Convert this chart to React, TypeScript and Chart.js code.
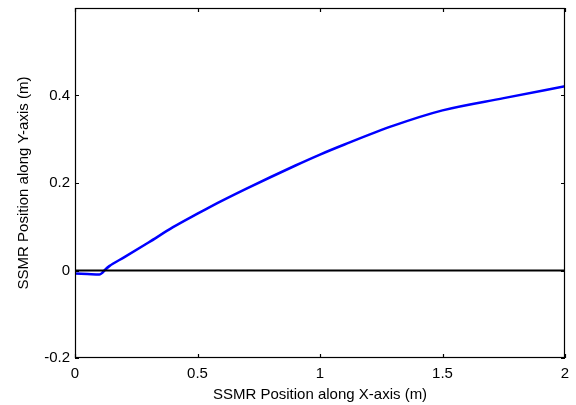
import React, { useEffect, useRef } from "react";
import { Chart, registerables } from "chart.js";

Chart.register(...registerables);

const pathX = [0, 0.05, 0.1, 0.11, 0.12, 0.14, 0.2, 0.3, 0.4, 0.5, 0.55, 0.7, 0.9, 1.0, 1.1, 1.3, 1.5, 1.75, 2.0];
const pathY = [-0.007, -0.008, -0.009, -0.006, 0.0, 0.01, 0.03, 0.064, 0.099, 0.13, 0.145, 0.187, 0.24, 0.265, 0.288, 0.331, 0.366, 0.394, 0.421];
const refX = [0, 2];
const refY = [0, 0];
const xTicks = [0, 0.5, 1, 1.5, 2];
const yTicks = [-0.2, 0, 0.2, 0.4];

const FONT = "'Liberation Sans', Arial, sans-serif";
const fmt = (v: number) => String(Math.round(v * 10) / 10);

const framePlugin = {
  id: "frame",
  afterDraw(chart: any) {
    const { ctx, chartArea } = chart;
    const { left, right, top, bottom } = chartArea;
    const xs = chart.scales.x;
    const ys = chart.scales.y;
    ctx.save();
    ctx.strokeStyle = "#000";
    ctx.lineWidth = 1.2;
    ctx.strokeRect(left + 0.5, top + 0.5, right - left - 1, bottom - top - 1);
    ctx.beginPath();
    xTicks.forEach((t) => {
      const p = Math.round(xs.getPixelForValue(t)) + 0.5;
      ctx.moveTo(p, bottom);
      ctx.lineTo(p, bottom - 4);
      ctx.moveTo(p, top);
      ctx.lineTo(p, top + 4);
    });
    yTicks.forEach((t) => {
      const p = Math.round(ys.getPixelForValue(t)) + 0.5;
      ctx.moveTo(left, p);
      ctx.lineTo(left + 4, p);
      ctx.moveTo(right, p);
      ctx.lineTo(right - 4, p);
    });
    ctx.stroke();
    ctx.restore();
  },
};

export default function App() {
  const ref = useRef<HTMLCanvasElement | null>(null);
  useEffect(() => {
    if (!ref.current) return;
    const chart = new Chart(ref.current, {
      type: "line",
      data: {
        datasets: [
          {
            data: refX.map((x, i) => ({ x, y: refY[i] })),
            borderColor: "#000000",
            borderWidth: 2,
            pointRadius: 0,
            tension: 0,
          },
          {
            data: pathX.map((x, i) => ({ x, y: pathY[i] })),
            borderColor: "#0000ff",
            borderWidth: 2.5,
            pointRadius: 0,
            cubicInterpolationMode: "monotone",
          },
        ],
      },
      options: {
        responsive: false,
        animation: false,
        layout: { padding: { top: 8, right: 11, left: 0, bottom: 0 } },
        plugins: { legend: { display: false }, tooltip: { enabled: false } },
        scales: {
          x: {
            type: "linear",
            min: 0,
            max: 2,
            afterBuildTicks: (s: any) => {
              s.ticks = xTicks.map((v) => ({ value: v }));
            },
            afterFit: (s: any) => {
              s.height = 47;
              s.paddingLeft = 0;
              s.paddingRight = 0;
            },
            grid: { display: false, drawTicks: false },
            border: { display: false },
            ticks: {
              color: "#000",
              padding: 7,
              maxRotation: 0,
              font: { family: FONT, size: 15 },
              callback: (v: any) => fmt(Number(v)),
            },
            title: {
              display: true,
              text: "SSMR Position along X-axis (m)",
              color: "#000",
              font: { family: FONT, size: 15 },
              padding: { top: 0, bottom: 1 },
            },
          },
          y: {
            type: "linear",
            min: -0.2,
            max: 0.6,
            afterBuildTicks: (s: any) => {
              s.ticks = yTicks.map((v) => ({ value: v }));
            },
            afterFit: (s: any) => {
              s.width = 75;
              s.paddingTop = 0;
              s.paddingBottom = 0;
            },
            grid: { display: false, drawTicks: false },
            border: { display: false },
            ticks: {
              color: "#000",
              padding: 5,
              font: { family: FONT, size: 15 },
              callback: (v: any) => fmt(Number(v)),
            },
            title: {
              display: true,
              text: "SSMR Position along Y-axis (m)",
              color: "#000",
              font: { family: FONT, size: 15 },
              padding: { top: 15, bottom: 0 },
            },
          },
        },
      },
      plugins: [framePlugin],
    });
    return () => chart.destroy();
  }, []);
  return (
    <div style={{ position: "fixed", left: 0, top: 0, width: 576, height: 405, background: "#fff" }}>
      <canvas ref={ref} width={576} height={405} style={{ width: 576, height: 405 }} />
    </div>
  );
}
